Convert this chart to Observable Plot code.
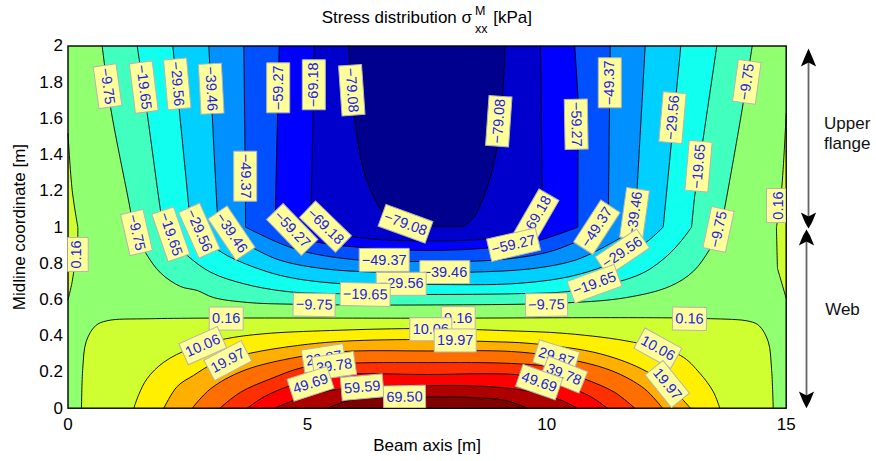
<!DOCTYPE html>
<html><head><meta charset="utf-8">
<script src="https://cdn.jsdelivr.net/npm/d3@7"></script>
<script src="https://cdn.jsdelivr.net/npm/@observablehq/plot@0.6"></script>
<style>
html,body{margin:0;padding:0;background:#fff;}
#wrap{position:relative;width:876px;height:461px;font-family:"Liberation Sans",sans-serif;color:#000;overflow:hidden;}
#title span{position:absolute;white-space:pre;}
.big{font-size:17px;line-height:20px;top:7.7px;}
.small{font-size:12.5px;line-height:14px;}
</style></head><body>
<div id="wrap">
<div id="title"><span class="big" style="left:321.7px">Stress distribution σ</span><span class="small" style="left:475px;top:3.9px">M</span><span class="small" style="left:475px;top:21.6px">xx</span><span class="big" style="left:493.3px">[kPa]</span></div>
<div id="chart"></div>
</div>
<script>
const xTicks=[0,5,10,15];
const yTicks=[0,0.2,0.4,0.6,0.8,1,1.2,1.4,1.6,1.8,2];

const cM9_75=[[0.714,2],[0.888,1.662],[1.291,1.11],[1.368,0.992],[1.368,0.992],[1.633,0.853],[1.932,0.747],[2.35,0.672],[2.698,0.65],[3.039,0.611],[3.743,0.584],[4.716,0.574],[7.509,0.57],[10.426,0.582],[11.665,0.611],[12.563,0.672],[13.058,0.755],[13.399,0.876],[13.628,0.992],[13.628,0.992],[13.718,1.11],[14.102,1.684],[14.29,2]];
const cM19_65=[[1.445,2],[1.654,1.626],[1.932,1.092],[1.995,0.992],[1.995,0.992],[2.183,0.926],[2.49,0.843],[2.976,0.751],[3.672,0.687],[4.578,0.644],[5.691,0.632],[7.509,0.628],[9.325,0.632],[10.433,0.644],[11.352,0.688],[12.041,0.751],[12.521,0.843],[12.814,0.926],[13.023,1],[13.023,1],[13.085,1.165],[13.085,1.165],[13.551,2]];
const cM29_56=[[2.189,2],[2.189,2],[2.523,1.11],[2.559,0.992],[2.559,0.992],[3.15,0.871],[3.534,0.816],[4.438,0.733],[5.622,0.689],[7.509,0.683],[9.388,0.689],[10.579,0.733],[11.477,0.816],[12.124,0.926],[12.431,1],[12.431,1],[12.799,2]];
const cM39_46=[[2.941,2],[2.941,2],[3.116,1.092],[3.143,0.992],[3.143,0.992],[3.895,0.88],[4.438,0.816],[5.336,0.77],[6.458,0.751],[7.509,0.749],[8.406,0.751],[9.681,0.77],[10.579,0.816],[11.122,0.88],[11.874,0.992],[11.874,0.992],[11.888,1.22],[11.888,1.22],[12.055,2]];
const cM49_37=[[3.672,2],[3.672,2],[3.707,1.147],[3.707,1],[3.707,1],[4.438,0.909],[4.996,0.861],[6.04,0.819],[7.509,0.81],[8.971,0.819],[10.015,0.861],[10.6,0.917],[11.31,1],[11.31,1],[11.289,1.147],[11.289,1.147],[11.324,2]];
const cM59_27=[[4.411,2],[4.411,2],[4.334,1.092],[4.334,0.992],[4.334,0.992],[5.205,0.917],[6.067,0.889],[7.509,0.871],[8.95,0.889],[9.827,0.926],[10.648,1],[10.648,1],[10.656,1.699],[10.656,1.699],[10.585,2]];
const cM69_18=[[5.142,2],[5.142,2],[5.121,1.627],[5.079,1.147],[5.079,1.064],[5.079,1.064],[5.635,0.972],[6.318,0.935],[8.755,0.935],[9.382,0.972],[9.868,1.02],[9.868,1.02],[9.904,1.184],[9.904,1.184],[9.868,2]];
const cM79_08=[[5.865,2],[5.969,1.627],[6.178,1.313],[6.387,1.165],[6.631,1.055],[6.736,1.005],[6.736,1.005],[8.267,1.005],[8.267,1.005],[8.476,1.055],[8.755,1.22],[8.964,1.441],[9.069,1.699],[9.131,2]];

const cP0_16=[[0.282,0],[0.309,0.221],[0.38,0.368],[0.574,0.455],[0.819,0.483],[1.723,0.494],[7.509,0.497],[13.336,0.495],[14.24,0.479],[14.436,0.455],[14.624,0.368],[14.693,0.221],[14.729,0]];
const cP10_06=[[1.374,0],[1.479,0.076],[1.654,0.164],[2.001,0.254],[2.559,0.33],[3.29,0.383],[4.09,0.411],[5.483,0.429],[7.509,0.44],[9.033,0.429],[10.426,0.412],[11.811,0.364],[12.793,0.291],[13.196,0.193],[13.475,0.092],[13.614,0]];
const cP19_97=[[2.001,0],[2.281,0.12],[2.621,0.181],[3.081,0.252],[3.811,0.304],[4.787,0.346],[5.76,0.37],[7.509,0.379],[8.547,0.37],[9.729,0.356],[11.122,0.3],[12.083,0.203],[12.71,0.081],[13,0]];
const cP29_87=[[2.594,0],[2.976,0.107],[3.672,0.208],[4.787,0.282],[5.754,0.313],[7.509,0.316],[9.263,0.313],[10.224,0.282],[11.345,0.208],[12.041,0.107],[12.417,0]];
const cP39_78=[[3.17,0],[3.602,0.088],[4.229,0.162],[4.919,0.226],[5.754,0.247],[7.509,0.252],[9.263,0.247],[10.098,0.226],[10.787,0.162],[11.414,0.088],[11.838,0]];
const cP49_69=[[3.743,0],[4.083,0.061],[4.647,0.125],[5.483,0.181],[7.509,0.186],[9.534,0.181],[10.37,0.125],[10.934,0.061],[11.262,0]];
const cP59_59=[[4.313,0],[4.716,0.043],[5.483,0.098],[6.527,0.123],[7.509,0.125],[8.49,0.123],[9.534,0.098],[10.307,0.043],[10.635,0]];
const cP69_50=[[5.414,0],[5.9,0.044],[6.589,0.059],[7.509,0.062],[8.428,0.059],[9.117,0.044],[9.597,0]];

const pocketLeft=[[0,1.517],[0.088,1.202],[0.205,1],[0.205,1],[0.205,0.937],[0.205,0.937],[0.088,0.7],[0,0.599]];
const pocketRight=[[15,1.627],[14.902,1.202],[14.796,0.998],[14.796,0.998],[14.817,0.773],[14.817,0.773],[15,0.607]];

const bandBase="#90FF70";
const bands=[
 [cM9_75,"#40FFBF"],[cM19_65,"#10FFEF"],[cM29_56,"#00D0FF"],[cM39_46,"#0090FF"],
 [cM49_37,"#0050FF"],[cM59_27,"#0000FF"],[cM69_18,"#0000CC"],[cM79_08,"#00008F"],
 [pocketLeft,"#CFFF30"],[pocketRight,"#CFFF30"],
 [cP0_16,"#CFFF30"],[cP10_06,"#FFEF00"],[cP19_97,"#FFAF00"],[cP29_87,"#FF6F00"],
 [cP39_78,"#FF3000"],[cP49_69,"#FF0000"],[cP59_59,"#AF0000"],[cP69_50,"#800000"]
];

const labelValue=[-79.08,-79.08,-79.08,-69.18,-69.18,-69.18,-59.27,-59.27,-59.27,-59.27,-49.37,-49.37,-49.37,-49.37,-39.46,-39.46,-39.46,-39.46,-29.56,-29.56,-29.56,-29.56,-29.56,-19.65,-19.65,-19.65,-19.65,-19.65,-9.75,-9.75,-9.75,-9.75,-9.75,-9.75,0.16,0.16,0.16,0.16,0.16,10.06,10.06,10.06,19.97,19.97,19.97,29.87,29.87,39.78,39.78,49.69,49.69,59.59,69.5];
const labelX=[5.927,8.997,7.049,5.134,5.378,9.785,4.39,10.614,4.683,9.305,3.701,11.316,11.045,6.604,2.991,3.415,11.832,7.87,2.281,2.742,12.626,11.577,6.959,1.583,2.147,13.169,10.996,6.207,0.825,1.431,14.177,13.586,5.142,9.994,0.182,14.829,3.304,8.15,12.981,2.815,7.577,12.319,3.338,8.087,12.515,5.343,10.197,5.56,10.355,5.065,9.841,6.145,7.028];
const labelY=[1.756,1.585,1.018,1.786,1.003,1.059,1.769,1.568,0.987,0.903,1.281,1.797,0.999,0.819,1.764,0.967,1.073,0.751,1.791,0.981,1.605,0.86,0.687,1.773,0.961,1.336,0.687,0.628,1.778,0.97,1.802,0.987,0.571,0.571,0.849,1.119,0.495,0.497,0.494,0.345,0.436,0.331,0.263,0.374,0.133,0.276,0.282,0.234,0.186,0.135,0.144,0.116,0.061];
const labelAngle=[86,-86,20,-90,44,-60,-90,89,46,-13,90,-90,-57,0,87,56,-82,0,85,66,-85,-34,0,83,71,-85,-20,1,82,77,-82,-78,1,-1,-90,-90,0,0,1,-24,0,29,-28,0,51,-9,17,-8,22,-18,19,-5,-1];

const fmt=v=>v.toFixed(2).replace("-","\u2212");
const boxSymbol=(w,h)=>({draw(ctx){ctx.moveTo(-w/2,-h/2);ctx.lineTo(w/2,-h/2);ctx.lineTo(w/2,h/2);ctx.lineTo(-w/2,h/2);ctx.closePath();}});
const boxWidth=s=>s.length>=6?50:s.length===5?42:34;

const labelMarks=labelValue.flatMap((v,i)=>{
  const s=fmt(v);
  const row=[{x:labelX[i],y:labelY[i],s}];
  return [
    Plot.dot(row,{x:"x",y:"y",symbol:boxSymbol(boxWidth(s),23),rotate:labelAngle[i],fill:"#FFFF99",stroke:"#b4b4b4",strokeWidth:1,clip:"frame"}),
    Plot.text(row,{x:"x",y:"y",text:"s",rotate:labelAngle[i],fill:"#2020f0",fontSize:14.5,textAnchor:"middle",lineAnchor:"middle"})
  ];
});

const shaftUpper=[[15.466,1.96],[15.466,1.02]];
const shaftWeb=[[15.424,0.96],[15.424,0.03]];
const heads=[
 [[15.466,1.986],[15.393,1.942],[15.307,1.887],[15.466,1.909],[15.625,1.887],[15.539,1.942]],
 [[15.466,0.992],[15.393,1.025],[15.307,1.081],[15.466,1.059],[15.625,1.081],[15.539,1.025]],
 [[15.424,0.987],[15.351,0.954],[15.265,0.898],[15.424,0.92],[15.583,0.898],[15.497,0.954]],
 [[15.424,0],[15.351,0.037],[15.265,0.092],[15.424,0.07],[15.583,0.092],[15.497,0.037]]
];
const notes=[{x:16.274,y:1.574,t:"Upper"},{x:16.274,y:1.463,t:"flange"},{x:16.176,y:0.547,t:"Web"}];

const px=d=>d[0],py=d=>d[1];
const chart=Plot.plot({
  width:876,height:461,
  marginLeft:67.5,marginRight:90.3,marginTop:45.5,marginBottom:53.3,
  x:{domain:[0,15]},y:{domain:[0,2]},
  style:{fontFamily:"'Liberation Sans',sans-serif",fontSize:"17px",color:"#000",background:"transparent"},
  marks:[
    Plot.frame({fill:bandBase,stroke:"none"}),
    ...bands.map(([pts,c])=>Plot.line(pts,{x:px,y:py,fill:c,stroke:"black",strokeWidth:0.9,curve:"catmull-rom"})),
    Plot.frame({stroke:"black",strokeWidth:1.4}),
    ...labelMarks,
    Plot.line(shaftUpper,{x:px,y:py,stroke:"#666",strokeWidth:1.8}),
    Plot.line(shaftWeb,{x:px,y:py,stroke:"#666",strokeWidth:1.8}),
    ...heads.map(h=>Plot.line(h,{x:px,y:py,fill:"black",stroke:"none",curve:"linear"})),
    Plot.text(notes,{x:"x",y:"y",text:"t",fontSize:17,fill:"#111",textAnchor:"middle",lineAnchor:"middle"}),
    Plot.axisX({ticks:xTicks,tickSize:0,tickPadding:10,label:"Beam axis [m]",labelAnchor:"center",labelArrow:"none",labelOffset:43,tickFormat:d=>String(d)}),
    Plot.axisY({ticks:yTicks,tickSize:0,tickPadding:5,label:"Midline coordinate [m]",labelAnchor:"center",labelArrow:"none",labelOffset:55,tickFormat:d=>String(d)})
  ]
});
document.getElementById("chart").appendChild(chart);
</script>
</body></html>
